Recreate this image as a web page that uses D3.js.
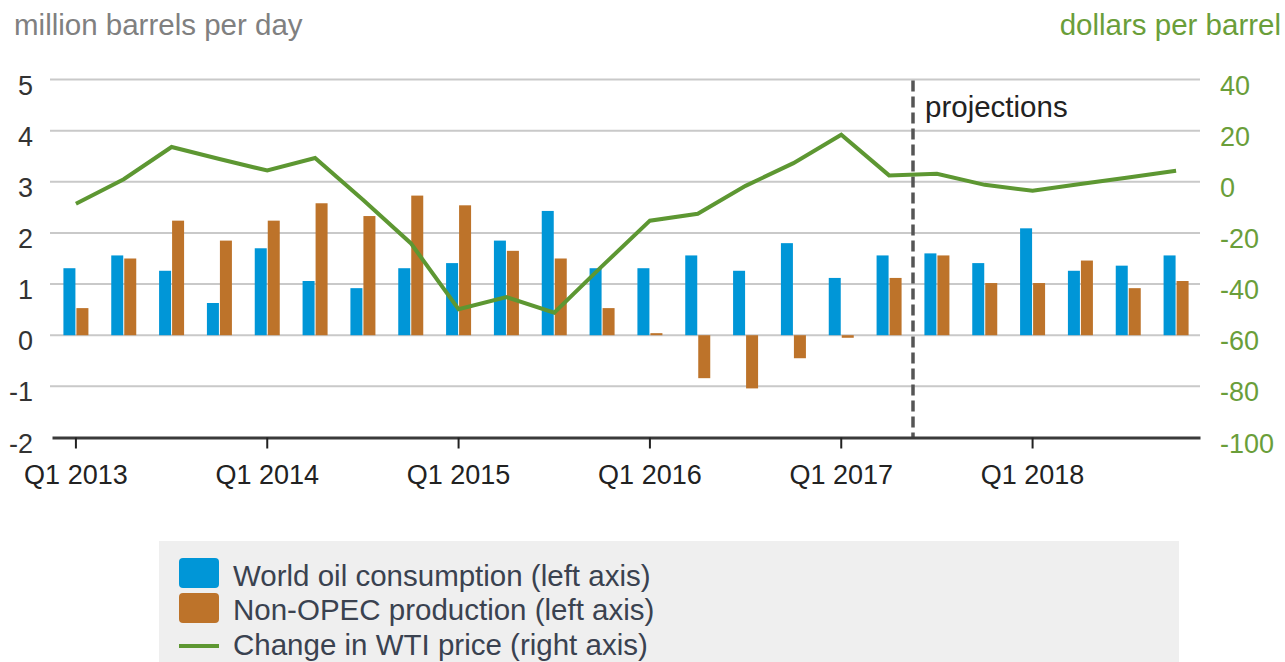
<!DOCTYPE html>
<html>
<head>
<meta charset="utf-8">
<script src="https://cdn.jsdelivr.net/npm/d3@7"></script>
<style>
  html, body { margin: 0; padding: 0; background: #ffffff; }
  svg { display: block; }
  text { font-family: "Liberation Sans", Arial, sans-serif; }
</style>
</head>
<body>
<svg id="chart" width="1285" height="662"></svg>
<script>
// ---------- data ----------
const quarters = [
  "Q1 2013","Q2 2013","Q3 2013","Q4 2013",
  "Q1 2014","Q2 2014","Q3 2014","Q4 2014",
  "Q1 2015","Q2 2015","Q3 2015","Q4 2015",
  "Q1 2016","Q2 2016","Q3 2016","Q4 2016",
  "Q1 2017","Q2 2017","Q3 2017","Q4 2017",
  "Q1 2018","Q2 2018","Q3 2018","Q4 2018"
];
const consumption = [1.31,1.56,1.26,0.63, 1.70,1.06,0.92,1.31, 1.41,1.85,2.43,1.31,
                     1.31,1.56,1.26,1.80, 1.12,1.56,1.60,1.41, 2.09,1.26,1.36,1.56];
const nonOpec     = [0.53,1.50,2.24,1.85, 2.24,2.58,2.33,2.73, 2.54,1.65,1.50,0.53,
                     0.04,-0.84,-1.04,-0.45, -0.05,1.12,1.56,1.02, 1.02,1.46,0.92,1.06];
const wtiChange   = [-8.6,1.0,13.6,8.9, 4.4,9.3,-7.0,-24.0, -49.8,-45.1,-51.2,-33.0,
                     -15.2,-12.5,-1.6,7.3, 18.4,2.5,3.1,-1.2, -3.5,-0.9,1.7,4.3];
const leftTicks  = [-2,-1,0,1,2,3,4,5];
const rightTicks = [-100,-80,-60,-40,-20,0,20,40];
const xTickLabels = ["Q1 2013","Q1 2014","Q1 2015","Q1 2016","Q1 2017","Q1 2018"];
const projectionStart = "Q3 2017";
const legendItems = [
  {label: "World oil consumption (left axis)", type: "rect", color: "#0096d7"},
  {label: "Non-OPEC production (left axis)",  type: "rect", color: "#bd732a"},
  {label: "Change in WTI price (right axis)", type: "line", color: "#5d9732"}
];

// ---------- layout ----------
const svg = d3.select("#chart");
const plot = {left: 52, right: 1200, top: 79.5, bottom: 437.5};
const BLUE = "#0096d7", ORANGE = "#bd732a", GREEN = "#5d9732";
const FONT = "'Liberation Sans', Arial, sans-serif";

const x = d3.scaleBand().domain(quarters).range([plot.left, plot.right]).padding(0);
const yL = d3.scaleLinear().domain([-2, 5]).range([plot.bottom, plot.top]);
const yR = d3.scaleLinear().domain([-100, 40]).range([plot.bottom, plot.top]);
const cx = q => x(q) + x.bandwidth() / 2;
const plainFmt = d => String(d);

// gridlines
svg.append("g")
  .selectAll("line")
  .data(leftTicks.filter(d => d > -2))
  .join("line")
  .attr("x1", plot.left - 2).attr("x2", plot.right)
  .attr("y1", d => yL(d)).attr("y2", d => yL(d))
  .attr("stroke", "#c9c9c9").attr("stroke-width", 2);

// bars
const barW = 12;
svg.append("g").selectAll("rect")
  .data(quarters.map((q, i) => ({q, v: consumption[i]})))
  .join("rect")
  .attr("x", d => cx(d.q) - barW - 0.5)
  .attr("width", barW)
  .attr("y", d => Math.min(yL(d.v), yL(0)))
  .attr("height", d => Math.abs(yL(d.v) - yL(0)))
  .attr("fill", BLUE);

svg.append("g").selectAll("rect")
  .data(quarters.map((q, i) => ({q, v: nonOpec[i]})))
  .join("rect")
  .attr("x", d => cx(d.q) + 0.5)
  .attr("width", barW)
  .attr("y", d => Math.min(yL(d.v), yL(0)))
  .attr("height", d => Math.max(1.5, Math.abs(yL(d.v) - yL(0))))
  .attr("fill", ORANGE);

// projection divider
const px = x(projectionStart);
svg.append("line")
  .attr("x1", px).attr("x2", px)
  .attr("y1", plot.top + 1).attr("y2", plot.bottom)
  .attr("stroke", "#555").attr("stroke-width", 3.5)
  .attr("stroke-dasharray", "11,5");
svg.append("text")
  .attr("x", px + 12).attr("y", 117)
  .attr("font-size", 29.5).attr("fill", "#222")
  .text("projections");

// WTI line
const line = d3.line()
  .x((d, i) => cx(quarters[i]))
  .y(d => yR(d));
svg.append("path")
  .datum(wtiChange)
  .attr("d", line)
  .attr("fill", "none")
  .attr("stroke", GREEN)
  .attr("stroke-width", 4)
  .attr("stroke-linejoin", "miter");

// bottom axis
const xAxis = d3.axisBottom(x)
  .tickValues(xTickLabels)
  .tickSize(11)
  .tickPadding(16)
  .tickSizeOuter(0);
const gx = svg.append("g")
  .attr("transform", `translate(0,${plot.bottom})`)
  .call(xAxis);
gx.select(".domain").attr("stroke", "#3a3a3a").attr("stroke-width", 3);
gx.selectAll(".tick line").attr("stroke", "#222").attr("stroke-width", 2);
gx.selectAll(".tick text")
  .attr("font-size", 27).attr("fill", "#222")
  .attr("font-family", FONT);

// left axis
const gl = svg.append("g")
  .attr("transform", `translate(33,0)`)
  .call(d3.axisLeft(yL).tickValues(leftTicks).tickFormat(plainFmt).tickSize(0).tickPadding(0));
gl.select(".domain").remove();
gl.selectAll(".tick text")
  .attr("font-size", 27).attr("fill", "#333").attr("dy", "0.54em")
  .attr("font-family", FONT);

// right axis
const gr = svg.append("g")
  .attr("transform", `translate(1220,0)`)
  .call(d3.axisRight(yR).tickValues(rightTicks).tickFormat(plainFmt).tickSize(0).tickPadding(0));
gr.select(".domain").remove();
gr.selectAll(".tick text")
  .attr("font-size", 27).attr("fill", "#6a9e3a").attr("dy", "0.54em")
  .attr("font-family", FONT);

// axis titles
svg.append("text")
  .attr("x", 14).attr("y", 35)
  .attr("font-size", 29.5).attr("fill", "#808080")
  .text("million barrels per day");
svg.append("text")
  .attr("x", 1281).attr("y", 35)
  .attr("text-anchor", "end")
  .attr("font-size", 29.5).attr("fill", "#6a9e3a")
  .text("dollars per barrel");

// legend
const lg = svg.append("g");
lg.append("rect")
  .attr("x", 159).attr("y", 541).attr("width", 1020).attr("height", 130)
  .attr("fill", "#efefef");
const swatchY = [573, 608, 646];
const textY = [586, 620, 655];
legendItems.forEach((d, i) => {
  if (d.type === "rect") {
    lg.append("rect")
      .attr("x", 179).attr("y", swatchY[i] - 15).attr("width", 40).attr("height", 30)
      .attr("rx", 4).attr("fill", d.color);
  } else {
    lg.append("rect")
      .attr("x", 179).attr("y", swatchY[i] - 2).attr("width", 40).attr("height", 4)
      .attr("fill", d.color);
  }
  lg.append("text")
    .attr("x", 233).attr("y", textY[i])
    .attr("font-size", 29.5).attr("fill", "#3a4250")
    .text(d.label);
});
</script>
</body>
</html>
